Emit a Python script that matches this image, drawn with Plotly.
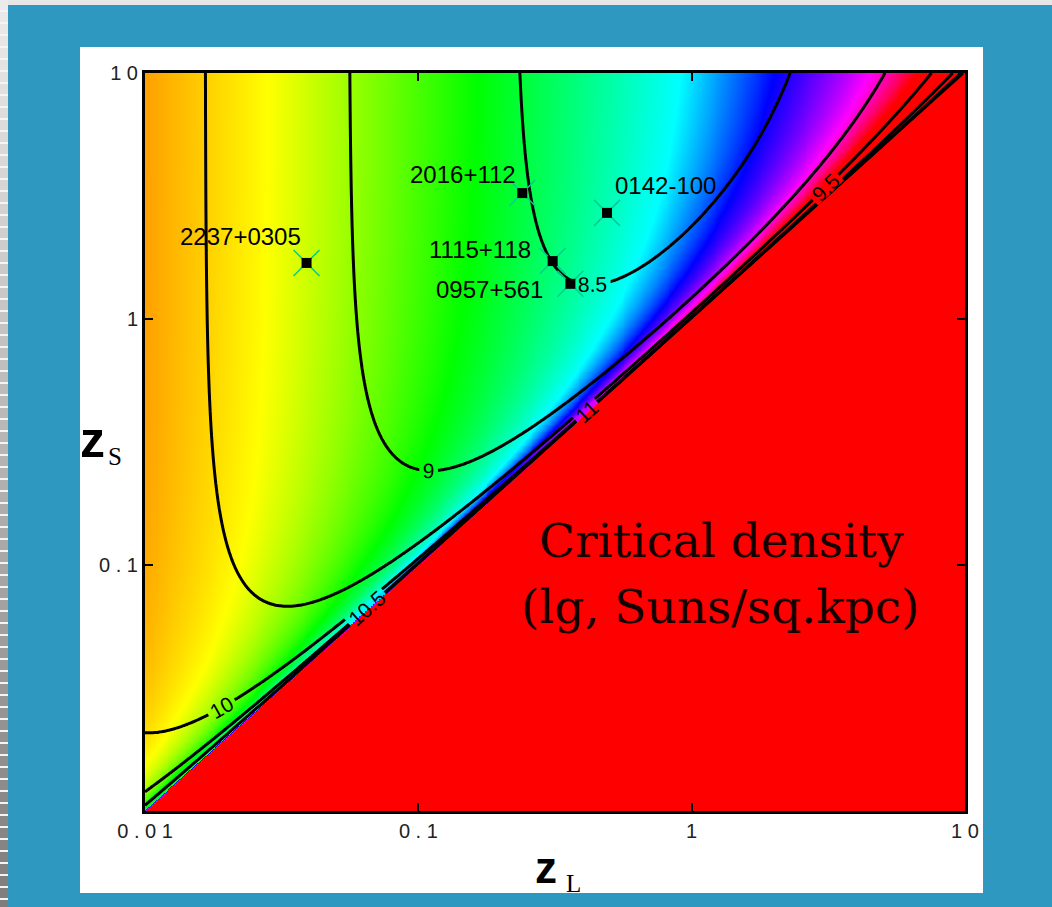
import numpy as np
import plotly.graph_objects as go

# ---------------- data ----------------
lens_names = ["2237+0305", "2016+112", "1115+118", "0957+561", "0142-100"]
lens_zL = [0.039, 0.24, 0.31, 0.36, 0.49]
lens_zS = [1.69, 3.25, 1.72, 1.39, 2.70]
# label placement relative to marker (pixels)
label_xanchor = ["right", "right", "right", "right", "left"]
label_dx = [-4, -4, -20, -25, 6]
label_dy = [26, 19, 12, -6, 27]

contour_levels = dict(start=8.5, end=11.0, size=0.5)
tick_vals = [0.01, 0.1, 1, 10]
xtick_text = ["0 . 0 1", "0 . 1", "1", "1 0"]
ytick_text = ["", "0 . 1", "1", "1 0"]

# cosmology used for the critical surface density
H0 = 70.0
OMEGA_M = 0.3
C_KMS = 299792.458
LOG_K = np.log10(1.6625e12)   # c^2/(4 pi G) in Msun*Mpc/kpc^2
LOG_OFFSET = -0.88

# ---------------- field ----------------
zz = np.linspace(0, 12, 24001)
Ez = np.sqrt(OMEGA_M * (1 + zz) ** 3 + (1 - OMEGA_M))
chi_grid = C_KMS / H0 * np.concatenate([[0], np.cumsum(0.5 * (1 / Ez[1:] + 1 / Ez[:-1]) * np.diff(zz))])

def chi(z):
    return np.interp(z, zz, chi_grid)

N = 420
zl = np.logspace(-2, 1, N)
zs = np.logspace(-2, 1, N)
ZL, ZS = np.meshgrid(zl, zs)
CL, CS = chi(ZL), chi(ZS)
with np.errstate(divide="ignore", invalid="ignore"):
    ratio = CS * (1 + ZL) / (CL * (CS - CL))
    logS = LOG_K + LOG_OFFSET + np.log10(ratio)
logS = np.where(ZS > ZL, logS, 20.0)
logS = np.nan_to_num(logS, nan=20.0, posinf=20.0)
logS = np.clip(logS, 0, 20.0)

# colour field (shading)
TMIN, TMAX = -2.0, 1.4
CORR_MAX = 1.2
with np.errstate(divide="ignore", invalid="ignore"):
    corr = -np.log10(1 - ZL / ZS)
corr = np.nan_to_num(corr, nan=CORR_MAX, posinf=CORR_MAX)
corr = np.clip(corr, 0, CORR_MAX)
T = np.log10(ZL) + corr
T = np.where(ZS > ZL, T, TMAX)
T = np.clip(T, TMIN, TMAX)

def nrm(t):
    return (t - TMIN) / (TMAX - TMIN)

cscale = [
    [0.0, "rgb(255,160,0)"],
    [nrm(-1.55), "rgb(255,255,0)"],
    [nrm(-0.78), "rgb(0,255,0)"],
    [nrm(0.0), "rgb(0,255,255)"],
    [nrm(0.4), "rgb(0,0,255)"],
    [nrm(0.91), "rgb(255,0,255)"],
    [nrm(1.3), "rgb(255,0,0)"],
    [1.0, "rgb(255,0,0)"],
]

fig = go.Figure()
fig.add_trace(go.Heatmap(x=zl, y=zs, z=T, colorscale=cscale, zmin=TMIN, zmax=TMAX,
                         zsmooth="best", showscale=False, hoverinfo="skip"))
fig.add_trace(go.Contour(x=zl, y=zs, z=logS, autocontour=False,
                         contours=dict(coloring="none", showlabels=True,
                                       labelfont=dict(size=21, color="black",
                                                      family="Liberation Sans, Arial"),
                                       **contour_levels),
                         line=dict(color="black", width=3),
                         showscale=False, hoverinfo="skip"))
fig.add_trace(go.Scatter(x=lens_zL, y=lens_zS, mode="markers",
                         marker=dict(symbol="x-thin-open", size=26,
                                     line=dict(color="rgba(0,90,0,0.5)", width=1.5)),
                         hoverinfo="skip", showlegend=False))
fig.add_trace(go.Scatter(x=lens_zL, y=lens_zS, mode="markers",
                         marker=dict(symbol="square", size=10, color="black"),
                         hoverinfo="skip", showlegend=False))

annotations = []
for name, x, y, xa, dx, dy in zip(lens_names, lens_zL, lens_zS, label_xanchor, label_dx, label_dy):
    annotations.append(dict(x=np.log10(x), y=np.log10(y), xref="x", yref="y", text=name,
                            showarrow=False, xanchor=xa, yanchor="middle",
                            xshift=dx, yshift=dy,
                            font=dict(size=24, color="black", family="Liberation Sans, Arial")))

# plot box in pixels: x 145..965, y 73..811
PL, PR, PT, PB = 145, 965, 73, 811
def px(x):
    return (x - PL) / (PR - PL)
def py(y):
    return (PB - y) / (PB - PT)

serif = "DejaVu Serif"
annotations += [
    dict(x=px(721), y=py(540), xref="paper", yref="paper", text="Critical density",
         showarrow=False, xanchor="center", yanchor="middle",
         font=dict(size=47, color="#140000", family=serif)),
    dict(x=px(720), y=py(606), xref="paper", yref="paper", text="(lg, Suns/sq.kpc)",
         showarrow=False, xanchor="center", yanchor="middle",
         font=dict(size=47, color="#140000", family=serif)),
    dict(x=px(92), y=py(440), xref="paper", yref="paper", text="<b>z</b>",
         showarrow=False, xanchor="center", yanchor="middle",
         font=dict(size=50, color="black", family="Liberation Sans, Arial")),
    dict(x=px(115), y=py(456), xref="paper", yref="paper", text="S",
         showarrow=False, xanchor="center", yanchor="middle",
         font=dict(size=25, color="black", family="Liberation Serif")),
    dict(x=px(546), y=py(868), xref="paper", yref="paper", text="<b>z</b>",
         showarrow=False, xanchor="center", yanchor="middle",
         font=dict(size=44, color="black", family="Liberation Sans, Arial")),
    dict(x=px(573), y=py(883), xref="paper", yref="paper", text="L",
         showarrow=False, xanchor="center", yanchor="middle",
         font=dict(size=25, color="black", family="Liberation Serif")),
]

shapes = [
    dict(type="rect", xref="paper", yref="paper", x0=px(80), x1=px(983), y0=py(47), y1=py(893),
         fillcolor="white", line=dict(width=0), layer="below"),
    dict(type="rect", xref="paper", yref="paper", x0=px(0), x1=px(1052), y0=py(0), y1=py(5),
         fillcolor="#e6e6e6", line=dict(width=0), layer="below"),
    dict(type="rect", xref="paper", yref="paper", x0=px(0), x1=px(8), y0=py(0), y1=py(907),
         fillcolor="#f4f4f4", line=dict(width=0), layer="below"),
]
# scanned left edge stripe
for y0 in range(0, 907, 12):
    g = int(235 - 110 * y0 / 907)
    shapes.append(dict(type="rect", xref="paper", yref="paper", x0=px(0), x1=px(8),
                       y0=py(y0), y1=py(y0 + 10), fillcolor=f"rgb({g},{g},{g})",
                       line=dict(width=0), layer="below"))

axis_common = dict(type="log", range=[-2, 1], tickvals=tick_vals,
                   ticks="inside", ticklen=8, tickwidth=2, tickcolor="black",
                   showline=True, linewidth=3, linecolor="black", mirror="ticks",
                   showgrid=False, zeroline=False,
                   tickfont=dict(size=20, color="#222", family="Liberation Sans, Arial"))

fig.update_layout(
    width=1052, height=907, autosize=False,
    margin=dict(l=PL, r=1052 - PR, t=PT, b=907 - PB),
    paper_bgcolor="#2e98c0", plot_bgcolor="white",
    xaxis=dict(ticktext=xtick_text, **axis_common),
    yaxis=dict(ticktext=ytick_text, **axis_common),
    showlegend=False,
    annotations=annotations, shapes=shapes,
)
fig.write_html("out.html")
